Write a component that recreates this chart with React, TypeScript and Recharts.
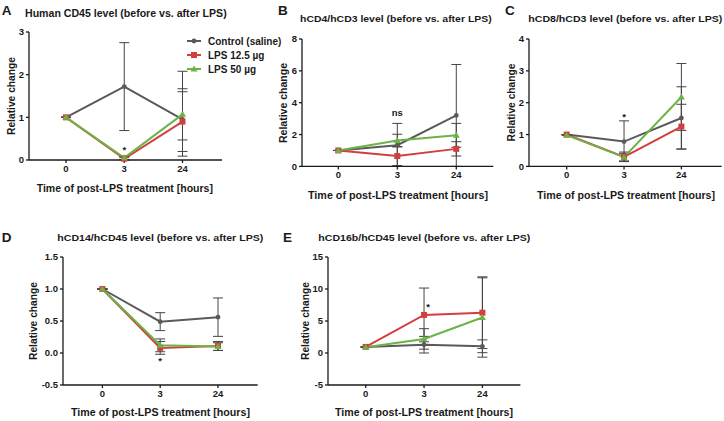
import React from 'react';
import { LineChart, Line, XAxis, YAxis, ErrorBar, ReferenceDot } from 'recharts';

const hours = ['0', '3', '24'];

// A: Human CD45
const aControl = [1, 1.72, 0.95];
const aControlErr = [[0, 0], [1.03, 1.03], [0.86, 1.13]];
const aLps12 = [1, 0.03, 0.9];
const aLps12Err = [[0, 0], [0.03, 0.03], [0.7, 0.7]];
const aLps50 = [1, 0.05, 1.07];
const aLps50Err = [[0, 0], [0.04, 0.04], [0.6, 0.6]];

// B: hCD4/hCD3
const bControl = [1, 1.33, 3.2];
const bControlErr = [[0, 0], [1.33, 1.37], [3.2, 3.2]];
const bLps12 = [1, 0.65, 1.1];
const bLps12Err = [[0, 0], [0.6, 0.6], [0.45, 0.45]];
const bLps50 = [1, 1.62, 1.95];
const bLps50Err = [[0, 0], [0.4, 0.4], [0.75, 0.75]];

// C: hCD8/hCD3
const cControl = [1, 0.78, 1.52];
const cControlErr = [[0, 0], [0.62, 0.65], [0.98, 0.98]];
const cLps12 = [1, 0.3, 1.25];
const cLps12Err = [[0, 0], [0.15, 0.15], [0.7, 0.7]];
const cLps50 = [0.98, 0.29, 2.18];
const cLps50Err = [[0, 0], [0.12, 0.12], [1.05, 1.05]];

// D: hCD14/hCD45
const dControl = [1, 0.49, 0.56];
const dControlErr = [[0, 0], [0.14, 0.14], [0.3, 0.3]];
const dLps12 = [1, 0.08, 0.11];
const dLps12Err = [[0, 0], [0.1, 0.1], [0.07, 0.07]];
const dLps50 = [1, 0.12, 0.1];
const dLps50Err = [[0, 0], [0.1, 0.1], [0.06, 0.06]];

// E: hCD16b/hCD45
const eControl = [0.95, 1.3, 1.05];
const eControlErr = [[0, 0], [1.3, 1.3], [1.0, 1.0]];
const eLps12 = [0.95, 5.95, 6.3];
const eLps12Err = [[0, 0], [4.2, 4.2], [5.6, 5.6]];
const eLps50 = [0.9, 2.2, 5.55];
const eLps50Err = [[0, 0], [1.6, 1.6], [6.2, 6.2]];

const aTicks = [0, 1, 2, 3];
const bTicks = [0, 2, 4, 6, 8];
const cTicks = [0, 1, 2, 3, 4];
const dTicks = [-0.5, 0, 0.5, 1, 1.5];
const eTicks = [-5, 0, 5, 10, 15];

const legendNames = ['Control (saline)', 'LPS 12.5 µg', 'LPS 50 µg'];

const GRAY = '#5a5a5a';
const RED = '#d23f3f';
const GREEN = '#6cb346';
const FONT = '"Liberation Sans", Arial, sans-serif';

const buildRows = (c: number[], ce: number[][], r: number[], re: number[][], g: number[], ge: number[][]) =>
  hours.map((h, i) => ({ hour: h, ctrl: c[i], ctrlErr: ce[i], lps12: r[i], lps12Err: re[i], lps50: g[i], lps50Err: ge[i] }));

const Circle = (props: any) => <circle key={`c-${props.index}`} cx={props.cx} cy={props.cy} r={2.4} fill={GRAY} />;
const Square = (props: any) => (
  <rect key={`s-${props.index}`} x={props.cx - 3} y={props.cy - 3} width={6} height={6} fill={RED} />
);
const Triangle = (props: any) => (
  <path key={`t-${props.index}`} d={`M${props.cx},${props.cy - 3.5} L${props.cx + 3.5},${props.cy + 2.5} L${props.cx - 3.5},${props.cy + 2.5} Z`} fill={GREEN} />
);

interface PanelProps {
  rows: any[];
  plotLeft: number;
  plotTop: number;
  plotBottom: number;
  plotRight: number;
  padL: number;
  padR: number;
  ticks: number[];
  note: { x: string; y: number; text: string; dx?: number };
}

const Panel: React.FC<PanelProps> = ({ rows, plotLeft, plotTop, plotBottom, plotRight, padL, padR, ticks, note }) => {
  const yw = 40;
  const mt = 10;
  const width = yw + (plotRight - plotLeft) + 5;
  const height = mt + (plotBottom - plotTop) + 30;
  const tickStyle = { fontSize: 9.5, fontWeight: 'bold', fill: '#1a1a1a', fontFamily: FONT };
  return (
    <div style={{ position: 'absolute', left: plotLeft - yw, top: plotTop - mt }}>
      <LineChart width={width} height={height} data={rows} margin={{ top: mt, right: 5, left: 0, bottom: 0 }}>
        <XAxis
          dataKey="hour"
          padding={{ left: padL, right: padR }}
          height={30}
          tick={tickStyle}
          tickSize={3}
          tickMargin={2}
          stroke="#1a1a1a"
          strokeWidth={1.3}
        />
        <YAxis
          width={yw}
          domain={[ticks[0], ticks[ticks.length - 1]]}
          ticks={ticks}
          interval={0}
          tick={tickStyle}
          tickSize={3}
          tickMargin={2}
          stroke="#1a1a1a"
          strokeWidth={1.3}
          tickFormatter={(v: number) => (ticks.some((t) => t % 1 !== 0) ? v.toFixed(1) : String(v))}
        />
        <Line dataKey="ctrl" stroke={GRAY} strokeWidth={2} dot={Circle} isAnimationActive={false}>
          <ErrorBar dataKey="ctrlErr" width={5} stroke="#444" strokeWidth={1} />
        </Line>
        <Line dataKey="lps12" stroke={RED} strokeWidth={2} dot={Square} isAnimationActive={false}>
          <ErrorBar dataKey="lps12Err" width={5} stroke="#444" strokeWidth={1} />
        </Line>
        <Line dataKey="lps50" stroke={GREEN} strokeWidth={2} dot={Triangle} isAnimationActive={false}>
          <ErrorBar dataKey="lps50Err" width={5} stroke="#444" strokeWidth={1} />
        </Line>
        <ReferenceDot
          x={note.x}
          y={note.y}
          r={0}
          fill="none"
          stroke="none"
          ifOverflow="visible"
          label={{ value: note.text, position: 'center', dx: note.dx || 0, fontSize: 9.5, fontWeight: 'bold', fill: '#1a1a1a', fontFamily: FONT }}
        />
      </LineChart>
    </div>
  );
};

const T = ({ x, y, w, size, children }: any) => (
  <text x={x} y={y} textLength={w} lengthAdjust="spacingAndGlyphs" fontSize={size} fontWeight="bold" fill="#1a1a1a" fontFamily={FONT}>
    {children}
  </text>
);

const YL = ({ cx, cy, w }: any) => (
  <text
    x={cx}
    y={cy}
    transform={`rotate(-90 ${cx} ${cy})`}
    textAnchor="middle"
    dominantBaseline="central"
    textLength={w}
    lengthAdjust="spacingAndGlyphs"
    fontSize={10.5}
    fontWeight="bold"
    fill="#1a1a1a"
    fontFamily={FONT}
  >
    Relative change
  </text>
);

const xLabel = 'Time of post-LPS treatment [hours]';

export default function App() {
  const legendColors = [GRAY, RED, GREEN];
  return (
    <div style={{ position: 'absolute', left: 0, top: 0, width: 724, height: 421, background: '#fff', overflow: 'hidden' }}>
      <Panel rows={buildRows(aControl, aControlErr, aLps12, aLps12Err, aLps50, aLps50Err)} plotLeft={29} plotTop={32.3} plotBottom={160.3} plotRight={222} padL={37} padR={39.5} ticks={aTicks} note={{ x: '3', y: 0.24, text: '*' }} />
      <Panel rows={buildRows(bControl, bControlErr, bLps12, bLps12Err, bLps50, bLps50Err)} plotLeft={301.7} plotTop={39.3} plotBottom={166.7} plotRight={493} padL={36.3} padR={37} ticks={bTicks} note={{ x: '3', y: 3.4, text: 'ns' }} />
      <Panel rows={buildRows(cControl, cControlErr, cLps12, cLps12Err, cLps50, cLps50Err)} plotLeft={529.3} plotTop={39.3} plotBottom={166.7} plotRight={722} padL={37.7} padR={40.3} ticks={cTicks} note={{ x: '3', y: 1.57, text: '*' }} />
      <Panel rows={buildRows(dControl, dControlErr, dLps12, dLps12Err, dLps50, dLps50Err)} plotLeft={63.3} plotTop={257.3} plotBottom={385.3} plotRight={258} padL={39.4} padR={39.7} ticks={dTicks} note={{ x: '3', y: -0.12, text: '*' }} />
      <Panel rows={buildRows(eControl, eControlErr, eLps12, eLps12Err, eLps50, eLps50Err)} plotLeft={328.3} plotTop={257.3} plotBottom={385.3} plotRight={520.7} padL={37.7} padR={38} ticks={eTicks} note={{ x: '3', y: 7.2, text: '*', dx: 4 }} />
      <svg width={724} height={421} style={{ position: 'absolute', left: 0, top: 0, pointerEvents: 'none' }}>
        <T x={1.7} y={15} size={13.5}>A</T>
        <T x={278} y={15} size={13.5}>B</T>
        <T x={505} y={15} size={13.5}>C</T>
        <T x={1.7} y={241.7} size={13.5}>D</T>
        <T x={283} y={242} size={13.5}>E</T>
        <T x={25} y={16.5} w={201.7} size={10.5}>Human CD45 level (before vs. after LPS)</T>
        <T x={300} y={22} w={191.7} size={9.5}>hCD4/hCD3 level (before vs. after LPS)</T>
        <T x={528.3} y={22} w={194} size={9.5}>hCD8/hCD3 level (before vs. after LPS)</T>
        <T x={57.3} y={241} w={206} size={9.5}>hCD14/hCD45 level (before vs. after LPS)</T>
        <T x={318.3} y={240.7} w={212} size={9.5}>hCD16b/hCD45 level (before vs. after LPS)</T>
        <T x={36.7} y={191.5} w={176.3} size={11}>{xLabel}</T>
        <T x={308} y={198.5} w={180} size={11}>{xLabel}</T>
        <T x={537} y={198.5} w={178} size={11}>{xLabel}</T>
        <T x={71} y={416} w={179} size={11}>{xLabel}</T>
        <T x={335} y={416} w={178} size={11}>{xLabel}</T>
        <YL cx={11} cy={96} w={78} />
        <YL cx={282.5} cy={103} w={80} />
        <YL cx={511} cy={102.5} w={78} />
        <YL cx={33.3} cy={321} w={78} />
        <YL cx={304.5} cy={321} w={78} />
        {legendNames.map((name, i) => {
          const y = 41 + i * 14;
          const c = legendColors[i];
          return (
            <g key={name}>
              <line x1={187} x2={201} y1={y} y2={y} stroke={c} strokeWidth={2} />
              {i === 0 && <circle cx={194} cy={y} r={2.4} fill={c} />}
              {i === 1 && <rect x={191} y={y - 3} width={6} height={6} fill={c} />}
              {i === 2 && <path d={`M194,${y - 3.5} L197.5,${y + 2.5} L190.5,${y + 2.5} Z`} fill={c} />}
              <T x={208} y={y + 3.5} size={10}>{name}</T>
            </g>
          );
        })}
      </svg>
    </div>
  );
}
